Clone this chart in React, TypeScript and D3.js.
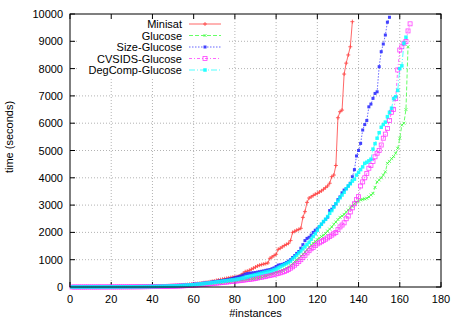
import React from 'react';
import * as d3 from 'd3';

// sorted solve times per instance (x = instance number, starting at 1)
const minisat = [
  0, 0, 0, 0, 0, 1, 1, 1, 1, 1,
  1, 2, 2, 2, 2, 3, 3, 3, 4, 4,
  4, 5, 5, 6, 6, 7, 7, 8, 9, 9,
  10, 11, 12, 13, 14, 15, 17, 18, 20, 22,
  24, 26, 28, 30, 33, 36, 39, 42, 46, 50,
  54, 58, 63, 68, 74, 80, 87, 94, 102, 110,
  118, 127, 136, 146, 156, 167, 178, 190, 205, 220,
  240, 255, 270, 285, 300, 315, 330, 345, 360, 370,
  380, 400, 440, 500, 560, 580, 610, 650, 690, 730,
  770, 800, 820, 840, 860, 880, 1050, 1100, 1150, 1200,
  1380, 1420, 1470, 1520, 1560, 1600, 1700, 2000, 2040, 2080,
  2110, 2150, 2550, 2760, 3100, 3260, 3300, 3350, 3400, 3430,
  3480, 3520, 3580, 3640, 3700, 3800, 4040, 4100, 4450, 6200,
  6420, 6480, 7800, 8200, 8500, 8800, 9720,
];

const glucose = [
  0, 0, 0, 0, 0, 0, 1, 1, 1, 1,
  1, 1, 2, 2, 2, 2, 2, 3, 3, 3,
  4, 4, 4, 5, 5, 6, 6, 7, 7, 8,
  8, 9, 10, 11, 12, 13, 14, 15, 16, 17,
  18, 20, 22, 24, 26, 28, 30, 32, 35, 38,
  40, 44, 48, 52, 56, 60, 65, 70, 75, 80,
  86, 92, 98, 104, 110, 116, 122, 128, 135, 142,
  150, 158, 166, 174, 182, 190, 198, 206, 214, 222,
  230, 240, 250, 260, 270, 280, 290, 300, 310, 320,
  330, 350, 370, 390, 410, 430, 460, 490, 510, 540,
  560, 580, 610, 650, 690, 730, 780, 850, 930, 1000,
  1060, 1130, 1200, 1280, 1360, 1450, 1530, 1600, 1670, 1730,
  1790, 1850, 1900, 1960, 2050, 2120, 2200, 2300, 2380, 2470,
  2550, 2600, 2660, 2750, 2820, 2900, 2960, 3050, 3110, 3150,
  3190, 3210, 3230, 3250, 3300, 3370, 3430, 3650, 3850, 3920,
  4000, 4100, 4220, 4530, 4600, 4700, 4780, 4900, 5080, 5450,
  5930, 6000, 6500, 8800,
];

const sizeGlucose = [
  0, 0, 0, 0, 0, 1, 1, 1, 1, 1,
  2, 2, 2, 2, 3, 3, 3, 4, 4, 4,
  5, 5, 6, 6, 7, 7, 8, 8, 9, 10,
  10, 11, 12, 13, 14, 15, 16, 17, 18, 19,
  20, 22, 24, 26, 28, 30, 33, 36, 39, 42,
  45, 50, 55, 60, 66, 72, 78, 85, 92, 100,
  108, 116, 125, 134, 143, 152, 162, 172, 183, 195,
  205, 215, 225, 235, 250, 265, 280, 295, 315, 340,
  360, 380, 400, 430, 470, 490, 500, 510, 520, 530,
  545, 560, 575, 590, 610, 625, 640, 670, 700, 750,
  800, 815, 830, 860, 900, 950, 1000, 1080, 1150, 1230,
  1300, 1420, 1550, 1700, 1780, 1820, 1900, 2000, 2080, 2130,
  2210, 2300, 2390, 2480, 2560, 2800, 2850, 2950, 3050, 3200,
  3300, 3450, 3550, 3600, 3700, 3800, 4040, 4300, 4800, 5000,
  5260, 5750, 5950, 6100, 6600, 6700, 6910, 7090, 7150, 8070,
  8620, 8900, 9230, 9700, 9880,
];

const cvsidsGlucose = [
  0, 0, 0, 0, 0, 0, 0, 1, 1, 1,
  1, 1, 1, 2, 2, 2, 2, 2, 3, 3,
  3, 3, 4, 4, 4, 5, 5, 5, 6, 6,
  7, 7, 8, 8, 9, 10, 11, 12, 13, 14,
  15, 16, 17, 18, 19, 20, 22, 24, 26, 28,
  30, 33, 36, 40, 44, 48, 52, 57, 62, 67,
  72, 78, 84, 90, 97, 104, 111, 118, 126, 134,
  142, 150, 158, 166, 174, 182, 190, 198, 206, 214,
  222, 230, 240, 250, 260, 270, 280, 290, 300, 315,
  330, 345, 360, 375, 390, 410, 425, 440, 460, 480,
  500, 520, 545, 570, 600, 640, 690, 740, 800, 860,
  930, 1000, 1080, 1160, 1250, 1330, 1400, 1450, 1520, 1580,
  1620, 1660, 1700, 1750, 1800, 1850, 1900, 1950, 2000, 2100,
  2200, 2270, 2350, 2500, 2600, 2750, 2900, 3050, 3200, 3310,
  3700, 3850, 4000, 4160, 4350, 4450, 4600, 4770, 4900, 5000,
  5200, 5450, 5600, 5810, 6100, 6400, 6500, 6900, 7950, 8680,
  8800, 8930, 8990, 9380, 9640,
];

const degCompGlucose = [
  0, 0, 0, 0, 0, 0, 1, 1, 1, 1,
  1, 2, 2, 2, 2, 3, 3, 3, 3, 4,
  4, 5, 5, 5, 6, 6, 7, 7, 8, 9,
  9, 10, 11, 12, 13, 14, 15, 16, 17, 18,
  19, 21, 23, 25, 27, 29, 31, 34, 37, 40,
  42, 46, 50, 55, 60, 65, 70, 76, 82, 88,
  95, 102, 110, 118, 126, 135, 144, 153, 162, 172,
  182, 192, 202, 212, 222, 232, 242, 252, 262, 272,
  285, 300, 315, 330, 350, 370, 390, 410, 430, 450,
  470, 490, 510, 530, 545, 560, 580, 600, 630, 660,
  700, 740, 780, 820, 860, 900, 950, 1030, 1100, 1170,
  1250, 1320, 1400, 1480, 1560, 1640, 1750, 1850, 1950, 2080,
  2210, 2300, 2400, 2480, 2580, 2700, 2800, 2920, 3050, 3150,
  3270, 3370, 3470, 3600, 3700, 3780, 3880, 3950, 4100, 4200,
  4300, 4400, 4530, 4570, 4620, 4680, 5050, 5250, 5450, 5650,
  5850, 5950, 6040, 6240, 6400, 6550, 6900, 6970, 7200, 8000,
  8100, 8930, 9150,
];

const seriesNames = ['Minisat', 'Glucose', 'Size-Glucose', 'CVSIDS-Glucose', 'DegComp-Glucose'];
const seriesValues = [minisat, glucose, sizeGlucose, cvsidsGlucose, degCompGlucose];
const seriesColors = ['#ff2020', '#20ff20', '#2020ff', '#ff20ff', '#00ffff'];
const seriesDash = ['none', '4,2', '1.5,1.5', '3,2,1,2', '6,2,1,2'];

const xTicks = [0, 20, 40, 60, 80, 100, 120, 140, 160, 180];
const yTicks = [0, 1000, 2000, 3000, 4000, 5000, 6000, 7000, 8000, 9000, 10000];

const W = 463;
const H = 324;
const margin = { top: 14, right: 22, bottom: 37, left: 70 };
const font = '"Liberation Sans", Arial, Helvetica, sans-serif';

const Marker = ({ kind, x, y, color }) => {
  if (kind === 0)
    return <path d={`M${x - 2},${y}H${x + 2}M${x},${y - 2}V${y + 2}`} stroke={color} strokeWidth={0.8} />;
  if (kind === 1)
    return <path d={`M${x - 1.5},${y - 1.5}L${x + 1.5},${y + 1.5}M${x - 1.5},${y + 1.5}L${x + 1.5},${y - 1.5}`} stroke={color} strokeWidth={0.8} />;
  if (kind === 2)
    return <rect x={x - 1.5} y={y - 1.5} width={3} height={3} fill={color} />;
  if (kind === 3)
    return <rect x={x - 2} y={y - 2} width={4} height={4} fill="none" stroke={color} strokeWidth={0.8} />;
  return <rect x={x - 1.75} y={y - 1.75} width={3.5} height={3.5} fill={color} />;
};

export default function App() {
  const x = d3.scaleLinear().domain([0, 180]).range([margin.left, W - margin.right]);
  const y = d3.scaleLinear().domain([0, 10000]).range([H - margin.bottom, margin.top]);
  const x0 = x.range()[0], x1 = x.range()[1];
  const y0 = y.range()[0], y1 = y.range()[1];
  const line = d3.line().x((d) => x(d[0])).y((d) => y(d[1]));

  // legend layout
  const legTextX = 182;
  const legLineX0 = 189;
  const legLineX1 = 221;
  const legRow = (i) => 24 + i * 11.5;

  return (
    <svg width={W} height={H} style={{ position: 'absolute', left: 0, top: 0, background: '#fff' }} fontFamily={font} fontSize={11}>
      <rect width={W} height={H} fill="#fff" />
      {/* grid */}
      {xTicks.slice(1, -1).map((t) => (
        <line key={'gx' + t} x1={x(t)} x2={x(t)} y1={y0} y2={y1} stroke="#a0a0a0" strokeWidth={0.8} strokeDasharray="1,2" />
      ))}
      {yTicks.slice(1, -1).map((t) => (
        <line key={'gy' + t} x1={x0} x2={x1} y1={y(t)} y2={y(t)} stroke="#a0a0a0" strokeWidth={0.8} strokeDasharray="1,2" />
      ))}
      {/* key box hides grid */}
      <rect x={78} y={y1 + 1} width={149} height={62} fill="#fff" />

      {/* ticks */}
      {xTicks.map((t) => (
        <g key={'tx' + t}>
          <line x1={x(t)} x2={x(t)} y1={y0} y2={y0 - 5} stroke="#000" />
          <line x1={x(t)} x2={x(t)} y1={y1} y2={y1 + 5} stroke="#000" />
          <text x={x(t)} y={y0 + 16} textAnchor="middle">{t}</text>
        </g>
      ))}
      {yTicks.map((t) => (
        <g key={'ty' + t}>
          <line x1={x0} x2={x0 + 5} y1={y(t)} y2={y(t)} stroke="#000" />
          <line x1={x1} x2={x1 - 5} y1={y(t)} y2={y(t)} stroke="#000" />
          <text x={x0 - 7} y={y(t) + 4} textAnchor="end">{t}</text>
        </g>
      ))}

      {/* data */}
      {seriesValues.map((vals, si) => {
        const pts = vals.map((v, i) => [i + 1, v]);
        return (
          <g key={seriesNames[si]} opacity={0.85}>
            <path d={line(pts)} fill="none" stroke={seriesColors[si]} strokeWidth={0.8}
              strokeDasharray={seriesDash[si]} />
            {pts.map((p, i) => (
              <Marker key={i} kind={si} x={x(p[0])} y={y(p[1])} color={seriesColors[si]} />
            ))}
          </g>
        );
      })}

      {/* border */}
      <rect x={x0} y={y1} width={x1 - x0} height={y0 - y1} fill="none" stroke="#000" strokeWidth={1} />

      {/* legend */}
      {seriesNames.map((name, i) => (
        <g key={'leg' + name}>
          <text x={legTextX} y={legRow(i) + 4} textAnchor="end">{name}</text>
          <g opacity={0.85}>
            <line x1={legLineX0} x2={legLineX1} y1={legRow(i)} y2={legRow(i)} stroke={seriesColors[i]}
              strokeWidth={0.8} strokeDasharray={seriesDash[i]} />
            <Marker kind={i} x={(legLineX0 + legLineX1) / 2} y={legRow(i)} color={seriesColors[i]} />
          </g>
        </g>
      ))}

      {/* axis titles */}
      <text x={(x0 + x1) / 2} y={317} textAnchor="middle">#instances</text>
      <text transform={`translate(13,137) rotate(-90)`} textAnchor="middle">time (seconds)</text>
    </svg>
  );
}
